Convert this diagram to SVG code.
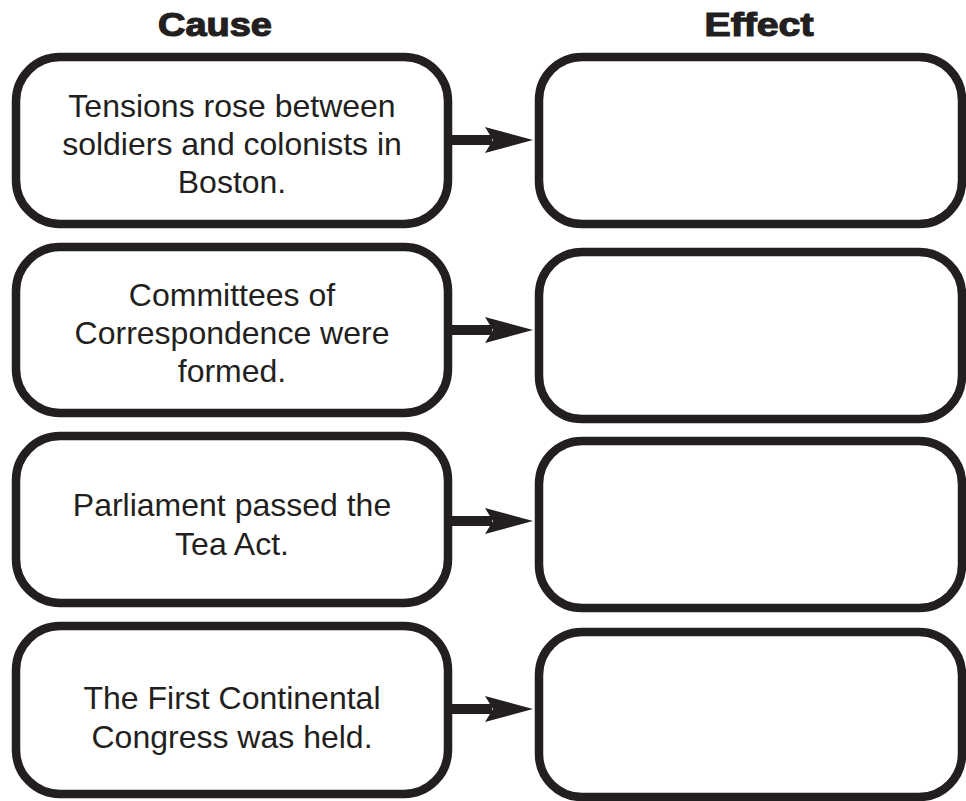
<svg xmlns="http://www.w3.org/2000/svg" width="966" height="801" viewBox="0 0 966 801">
  <defs>
    <style>
      .box { fill: #ffffff; stroke: #231f20; stroke-width: 8.5; }
      .title { font-family: "Liberation Sans", Arial, sans-serif; font-weight: bold; font-size: 33px; fill: #231f20; stroke: #231f20; stroke-width: 1.2; text-anchor: middle; }
      .label { font-family: "Liberation Sans", Arial, sans-serif; font-size: 32px; fill: #231f20; text-anchor: middle; }
      .shaft { stroke: #231f20; stroke-width: 10; fill: none; }
      .head { fill: #231f20; }
    </style>
  </defs>
  <rect width="966" height="801" fill="#ffffff"/>

  <g id="titles">
    <text class="title" x="215" y="36" textLength="114" lengthAdjust="spacingAndGlyphs">Cause</text>
    <text class="title" x="759" y="36" textLength="109" lengthAdjust="spacingAndGlyphs">Effect</text>
  </g>

  <g id="cause1">
    <rect class="box" x="16" y="57" width="432" height="167" rx="44" ry="44"/>
    <text class="label" x="232" y="117">Tensions rose between</text>
    <text class="label" x="232" y="155">soldiers and colonists in</text>
    <text class="label" x="232" y="193">Boston.</text>
  </g>
  <g id="cause2">
    <rect class="box" x="16" y="247" width="432" height="166" rx="44" ry="44"/>
    <text class="label" x="232" y="306">Committees of</text>
    <text class="label" x="232" y="344">Correspondence were</text>
    <text class="label" x="232" y="382">formed.</text>
  </g>
  <g id="cause3">
    <rect class="box" x="16" y="436" width="432" height="167" rx="44" ry="44"/>
    <text class="label" x="232" y="516">Parliament passed the</text>
    <text class="label" x="232" y="555">Tea Act.</text>
  </g>
  <g id="cause4">
    <rect class="box" x="16" y="626" width="432" height="168" rx="44" ry="44"/>
    <text class="label" x="232" y="709">The First Continental</text>
    <text class="label" x="232" y="748">Congress was held.</text>
  </g>

  <g id="effect1">
    <rect class="box" x="539" y="57" width="423" height="167" rx="43" ry="43"/>
  </g>
  <g id="effect2">
    <rect class="box" x="539" y="252" width="423" height="167" rx="43" ry="43"/>
  </g>
  <g id="effect3">
    <rect class="box" x="539" y="441" width="423" height="167" rx="43" ry="43"/>
  </g>
  <g id="effect4">
    <rect class="box" x="539" y="632" width="423" height="165" rx="43" ry="43"/>
  </g>

  <g id="connectors">
    <line class="shaft" x1="452" y1="140" x2="492" y2="140"/>
    <path class="head" d="M533,140 L485,127 L493,140 L485,153 Z"/>
    <line class="shaft" x1="452" y1="330" x2="492" y2="330"/>
    <path class="head" d="M533,330 L485,317 L493,330 L485,343 Z"/>
    <line class="shaft" x1="452" y1="521" x2="492" y2="521"/>
    <path class="head" d="M533,521 L485,508 L493,521 L485,534 Z"/>
    <line class="shaft" x1="452" y1="709" x2="492" y2="709"/>
    <path class="head" d="M533,709 L485,696 L493,709 L485,722 Z"/>
  </g>
</svg>
